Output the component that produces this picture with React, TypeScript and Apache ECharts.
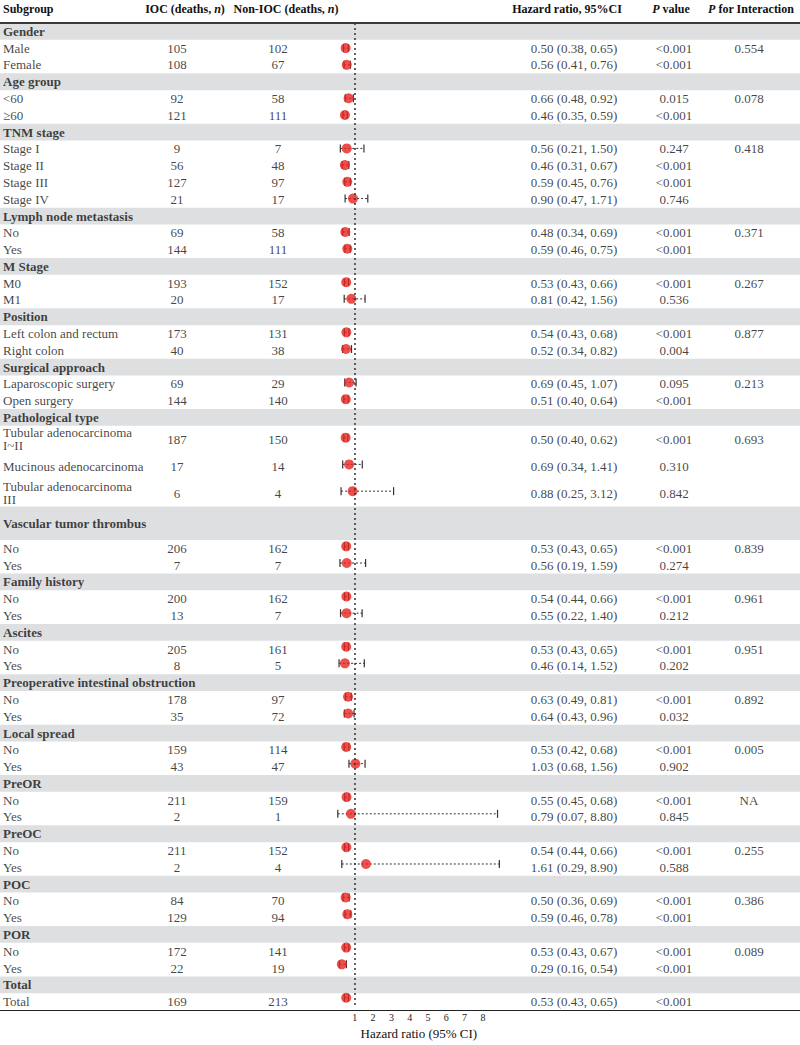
import React, { useEffect, useRef } from "react";
import * as echarts from "echarts";

// ---------------- DATA ----------------
const rowLabels: string[] = [
  "Gender", "Male", "Female",
  "Age group", "<60", "≥60",
  "TNM stage", "Stage I", "Stage II", "Stage III", "Stage IV",
  "Lymph node metastasis", "No", "Yes",
  "M Stage", "M0", "M1",
  "Position", "Left colon and rectum", "Right colon",
  "Surgical approach", "Laparoscopic surgery", "Open surgery",
  "Pathological type", "Tubular adenocarcinoma\nI~II", "Mucinous adenocarcinoma", "Tubular adenocarcinoma\nIII",
  "Vascular tumor thrombus", "No", "Yes",
  "Family history", "No", "Yes",
  "Ascites", "No", "Yes",
  "Preoperative intestinal obstruction", "No", "Yes",
  "Local spread", "No", "Yes",
  "PreOR", "No", "Yes",
  "PreOC", "No", "Yes",
  "POC", "No", "Yes",
  "POR", "No", "Yes",
  "Total", "Total",
];

const iocDeaths: (number | null)[] = [
  null, 105, 108, null, 92, 121, null, 9, 56, 127, 21, null, 69, 144, null, 193, 20,
  null, 173, 40, null, 69, 144, null, 187, 17, 6, null, 206, 7, null, 200, 13,
  null, 205, 8, null, 178, 35, null, 159, 43, null, 211, 2, null, 211, 2,
  null, 84, 129, null, 172, 22, null, 169,
];

const nonIocDeaths: (number | null)[] = [
  null, 102, 67, null, 58, 111, null, 7, 48, 97, 17, null, 58, 111, null, 152, 17,
  null, 131, 38, null, 29, 140, null, 150, 14, 4, null, 162, 7, null, 162, 7,
  null, 161, 5, null, 97, 72, null, 114, 47, null, 159, 1, null, 152, 4,
  null, 70, 94, null, 141, 19, null, 213,
];

const hazardRatio: (number | null)[] = [
  null, 0.50, 0.56, null, 0.66, 0.46, null, 0.56, 0.46, 0.59, 0.90, null, 0.48, 0.59, null, 0.53, 0.81,
  null, 0.54, 0.52, null, 0.69, 0.51, null, 0.50, 0.69, 0.88, null, 0.53, 0.56, null, 0.54, 0.55,
  null, 0.53, 0.46, null, 0.63, 0.64, null, 0.53, 1.03, null, 0.55, 0.79, null, 0.54, 1.61,
  null, 0.50, 0.59, null, 0.53, 0.29, null, 0.53,
];

const ciLower: (number | null)[] = [
  null, 0.38, 0.41, null, 0.48, 0.35, null, 0.21, 0.31, 0.45, 0.47, null, 0.34, 0.46, null, 0.43, 0.42,
  null, 0.43, 0.34, null, 0.45, 0.40, null, 0.40, 0.34, 0.25, null, 0.43, 0.19, null, 0.44, 0.22,
  null, 0.43, 0.14, null, 0.49, 0.43, null, 0.42, 0.68, null, 0.45, 0.07, null, 0.44, 0.29,
  null, 0.36, 0.46, null, 0.43, 0.16, null, 0.43,
];

const ciUpper: (number | null)[] = [
  null, 0.65, 0.76, null, 0.92, 0.59, null, 1.50, 0.67, 0.76, 1.71, null, 0.69, 0.75, null, 0.66, 1.56,
  null, 0.68, 0.82, null, 1.07, 0.64, null, 0.62, 1.41, 3.12, null, 0.65, 1.59, null, 0.66, 1.40,
  null, 0.65, 1.52, null, 0.81, 0.96, null, 0.68, 1.56, null, 0.68, 8.80, null, 0.66, 8.90,
  null, 0.69, 0.78, null, 0.67, 0.54, null, 0.65,
];

const pValues: (string | null)[] = [
  null, "<0.001", "<0.001", null, "0.015", "<0.001", null, "0.247", "<0.001", "<0.001", "0.746",
  null, "<0.001", "<0.001", null, "<0.001", "0.536", null, "<0.001", "0.004", null, "0.095", "<0.001",
  null, "<0.001", "0.310", "0.842", null, "<0.001", "0.274", null, "<0.001", "0.212",
  null, "<0.001", "0.202", null, "<0.001", "0.032", null, "<0.001", "0.902", null, "<0.001", "0.845",
  null, "<0.001", "0.588", null, "<0.001", "<0.001", null, "<0.001", "<0.001", null, "<0.001",
];

const pInteraction: (string | null)[] = [
  null, "0.554", null, null, "0.078", null, null, "0.418", null, null, null,
  null, "0.371", null, null, "0.267", null, null, "0.877", null, null, "0.213", null,
  null, "0.693", null, null, null, "0.839", null, null, "0.961", null,
  null, "0.951", null, null, "0.892", null, null, "0.005", null, null, "NA", null,
  null, "0.255", null, null, "0.386", null, null, "0.089", null, null, null,
];

const xTickValues = [0, 1, 2, 3, 4, 5, 6, 7, 8, 9];
const xLabelValues = [1, 2, 3, 4, 5, 6, 7, 8];

// ---------------- LAYOUT ----------------
const W = 800;
const H = 1045;
const FONT = "'Liberation Serif','Times New Roman',serif";
const GRID_TOP = 23;
const GRID_BOTTOM = 35;
const PLOT_LEFT = 336.5;
const PLOT_WIDTH = 164.7;
const TALL_ROWS: Record<number, number> = { 24: 1.6, 25: 1.6, 26: 1.6, 27: 2 };
const COL_LABEL = 3;
const COL_IOC = 177;
const COL_NONIOC = 278;
const COL_HR = 574;
const COL_P = 674;
const COL_PINT = 749;
const FS = 13;
const HFS = 12;

function fmt(v: number) {
  return v.toFixed(2);
}

export default function App() {
  const ref = useRef<HTMLDivElement>(null);
  useEffect(() => {
    document.body.style.margin = "0";
    const chart = echarts.init(ref.current!, null, { renderer: "svg" });

    const units = rowLabels.map((_, i) => TALL_ROWS[i] ?? 1);
    const starts: number[] = [];
    let acc = 0;
    units.forEach((u) => {
      starts.push(acc);
      acc += u;
    });
    const total = acc;
    const centers = starts.map((s, i) => s + units[i] / 2);
    const isGroup = (i: number) => hazardRatio[i] == null;
    const itemIdx = rowLabels.map((_, i) => i).filter((i) => !isGroup(i));
    const groupIdx = rowLabels.map((_, i) => i).filter((i) => isGroup(i));

    const labelBase = {
      show: true,
      position: "inside",
      verticalAlign: "middle",
      fontFamily: FONT,
      fontSize: FS,
      color: "#111",
      lineHeight: 13,
    };

    const textSeries = (
      x: number,
      align: string,
      rows: { y: number; text: string }[],
      weight = "normal",
      extra: any = {}
    ) => ({
      type: "scatter",
      xAxisIndex: 0,
      yAxisIndex: 0,
      symbolSize: 0,
      silent: true,
      z: 5,
      itemStyle: { color: "transparent" },
      data: rows.map((r) => ({ value: [x, r.y], label: { formatter: r.text } })),
      label: { ...labelBase, align, fontWeight: weight },
      ...extra,
    });

    const headerRich = {
      b: { fontFamily: FONT, fontSize: HFS, fontWeight: "bold", fill: "#111", color: "#111" },
      i: { fontFamily: FONT, fontSize: HFS, fontWeight: "bold", fontStyle: "italic", fill: "#111", color: "#111" },
    };
    const headerText = (x: number, align: string, text: string) => ({
      type: "text",
      x,
      y: 9,
      style: {
        text,
        rich: headerRich,
        align,
        verticalAlign: "middle",
        fontFamily: FONT,
        fontSize: HFS,
        fontWeight: "bold",
        fill: "#111",
      },
    });

    const option: any = {
      animation: false,
      backgroundColor: "#fff",
      grid: [
        { left: 0, right: 0, top: GRID_TOP, bottom: GRID_BOTTOM },
        { left: PLOT_LEFT, width: PLOT_WIDTH, top: GRID_TOP, bottom: GRID_BOTTOM },
      ],
      xAxis: [
        {
          gridIndex: 0,
          type: "value",
          min: 0,
          max: W,
          axisLine: { show: true, onZero: false, lineStyle: { color: "#222", width: 1 } },
          axisTick: { show: false },
          axisLabel: { show: false },
          splitLine: { show: false },
        },
        {
          gridIndex: 1,
          type: "value",
          min: 0,
          max: 9,
          interval: 1,
          axisLine: { show: false },
          axisTick: { show: true, length: 5, customValues: xTickValues, lineStyle: { color: "#222", width: 1 } },
          axisLabel: {
            show: true,
            customValues: xLabelValues,
            fontFamily: FONT,
            fontSize: 10,
            color: "#222",
            margin: 6,
          },
          splitLine: { show: false },
          name: "Hazard ratio (95% CI)",
          nameLocation: "middle",
          nameGap: 20,
          nameTextStyle: { fontFamily: FONT, fontSize: FS, color: "#111" },
        },
      ],
      yAxis: [
        { gridIndex: 0, type: "value", inverse: true, min: 0, max: total, show: false },
        { gridIndex: 1, type: "value", inverse: true, min: 0, max: total, show: false },
      ],
      graphic: [
        headerText(COL_LABEL, "left", "{b|Subgroup}"),
        headerText(185, "center", "{b|IOC (deaths, }{i|n}{b|)}"),
        headerText(286, "center", "{b|Non-IOC (deaths, }{i|n}{b|)}"),
        headerText(567, "center", "{b|Hazard ratio, 95%CI}"),
        headerText(671, "center", "{i|P}{b| value}"),
        headerText(751, "center", "{i|P}{b| for Interaction}"),
      ],
      series: [
        // group header bands + group labels
        textSeries(
          COL_LABEL,
          "left",
          groupIdx.map((i) => ({ y: centers[i], text: rowLabels[i] })),
          "bold",
          {
            markArea: {
              silent: true,
              itemStyle: { color: "#dedfe0" },
              data: groupIdx.map((i) => [
                { xAxis: 0, yAxis: starts[i] },
                { xAxis: W, yAxis: starts[i] + units[i] },
              ]),
            },
            markLine: {
              silent: true,
              symbol: "none",
              label: { show: false },
              lineStyle: { color: "#3a3a3a", width: 2, type: "solid" },
              data: [{ yAxis: 0 }],
            },
          }
        ),
        textSeries(COL_LABEL, "left", itemIdx.map((i) => ({ y: centers[i], text: rowLabels[i] }))),
        textSeries(COL_IOC, "center", itemIdx.map((i) => ({ y: centers[i], text: String(iocDeaths[i]) }))),
        textSeries(COL_NONIOC, "center", itemIdx.map((i) => ({ y: centers[i], text: String(nonIocDeaths[i]) }))),
        textSeries(
          COL_HR,
          "center",
          itemIdx.map((i) => ({
            y: centers[i],
            text: `${fmt(hazardRatio[i]!)} (${fmt(ciLower[i]!)}, ${fmt(ciUpper[i]!)})`,
          }))
        ),
        textSeries(COL_P, "center", itemIdx.map((i) => ({ y: centers[i], text: pValues[i]! }))),
        textSeries(
          COL_PINT,
          "center",
          itemIdx.filter((i) => pInteraction[i] != null).map((i) => ({ y: centers[i], text: pInteraction[i]! }))
        ),
        // CI whiskers
        {
          type: "custom",
          xAxisIndex: 1,
          yAxisIndex: 1,
          silent: true,
          z: 3,
          data: itemIdx.map((i) => [ciLower[i], ciUpper[i], centers[i]]),
          encode: { x: [0, 1], y: 2 },
          renderItem: (_params: any, api: any) => {
            const lo = api.coord([api.value(0), api.value(2)]);
            const hi = api.coord([api.value(1), api.value(2)]);
            const cap = 4;
            const stroke = "#333";
            return {
              type: "group",
              children: [
                {
                  type: "line",
                  shape: { x1: lo[0], y1: lo[1], x2: hi[0], y2: hi[1] },
                  style: { stroke, lineWidth: 1, lineDash: [2, 2] },
                },
                {
                  type: "line",
                  shape: { x1: lo[0], y1: lo[1] - cap, x2: lo[0], y2: lo[1] + cap },
                  style: { stroke, lineWidth: 1.2 },
                },
                {
                  type: "line",
                  shape: { x1: hi[0], y1: hi[1] - cap, x2: hi[0], y2: hi[1] + cap },
                  style: { stroke, lineWidth: 1.2 },
                },
              ],
            };
          },
        },
        // Point estimates + reference line
        {
          type: "scatter",
          xAxisIndex: 1,
          yAxisIndex: 1,
          silent: true,
          z: 4,
          symbol: "circle",
          symbolSize: 10,
          itemStyle: { color: "#e8231f" },
          data: itemIdx.map((i) => [hazardRatio[i], centers[i]]),
          markLine: {
            silent: true,
            symbol: "none",
            label: { show: false },
            lineStyle: { color: "#333", width: 1.5, type: [2, 3] },
            data: [{ xAxis: 1 }],
          },
        },
      ],
    };

    chart.setOption(option);
    return () => chart.dispose();
  }, []);

  return <div ref={ref} style={{ width: W, height: H }} />;
}
